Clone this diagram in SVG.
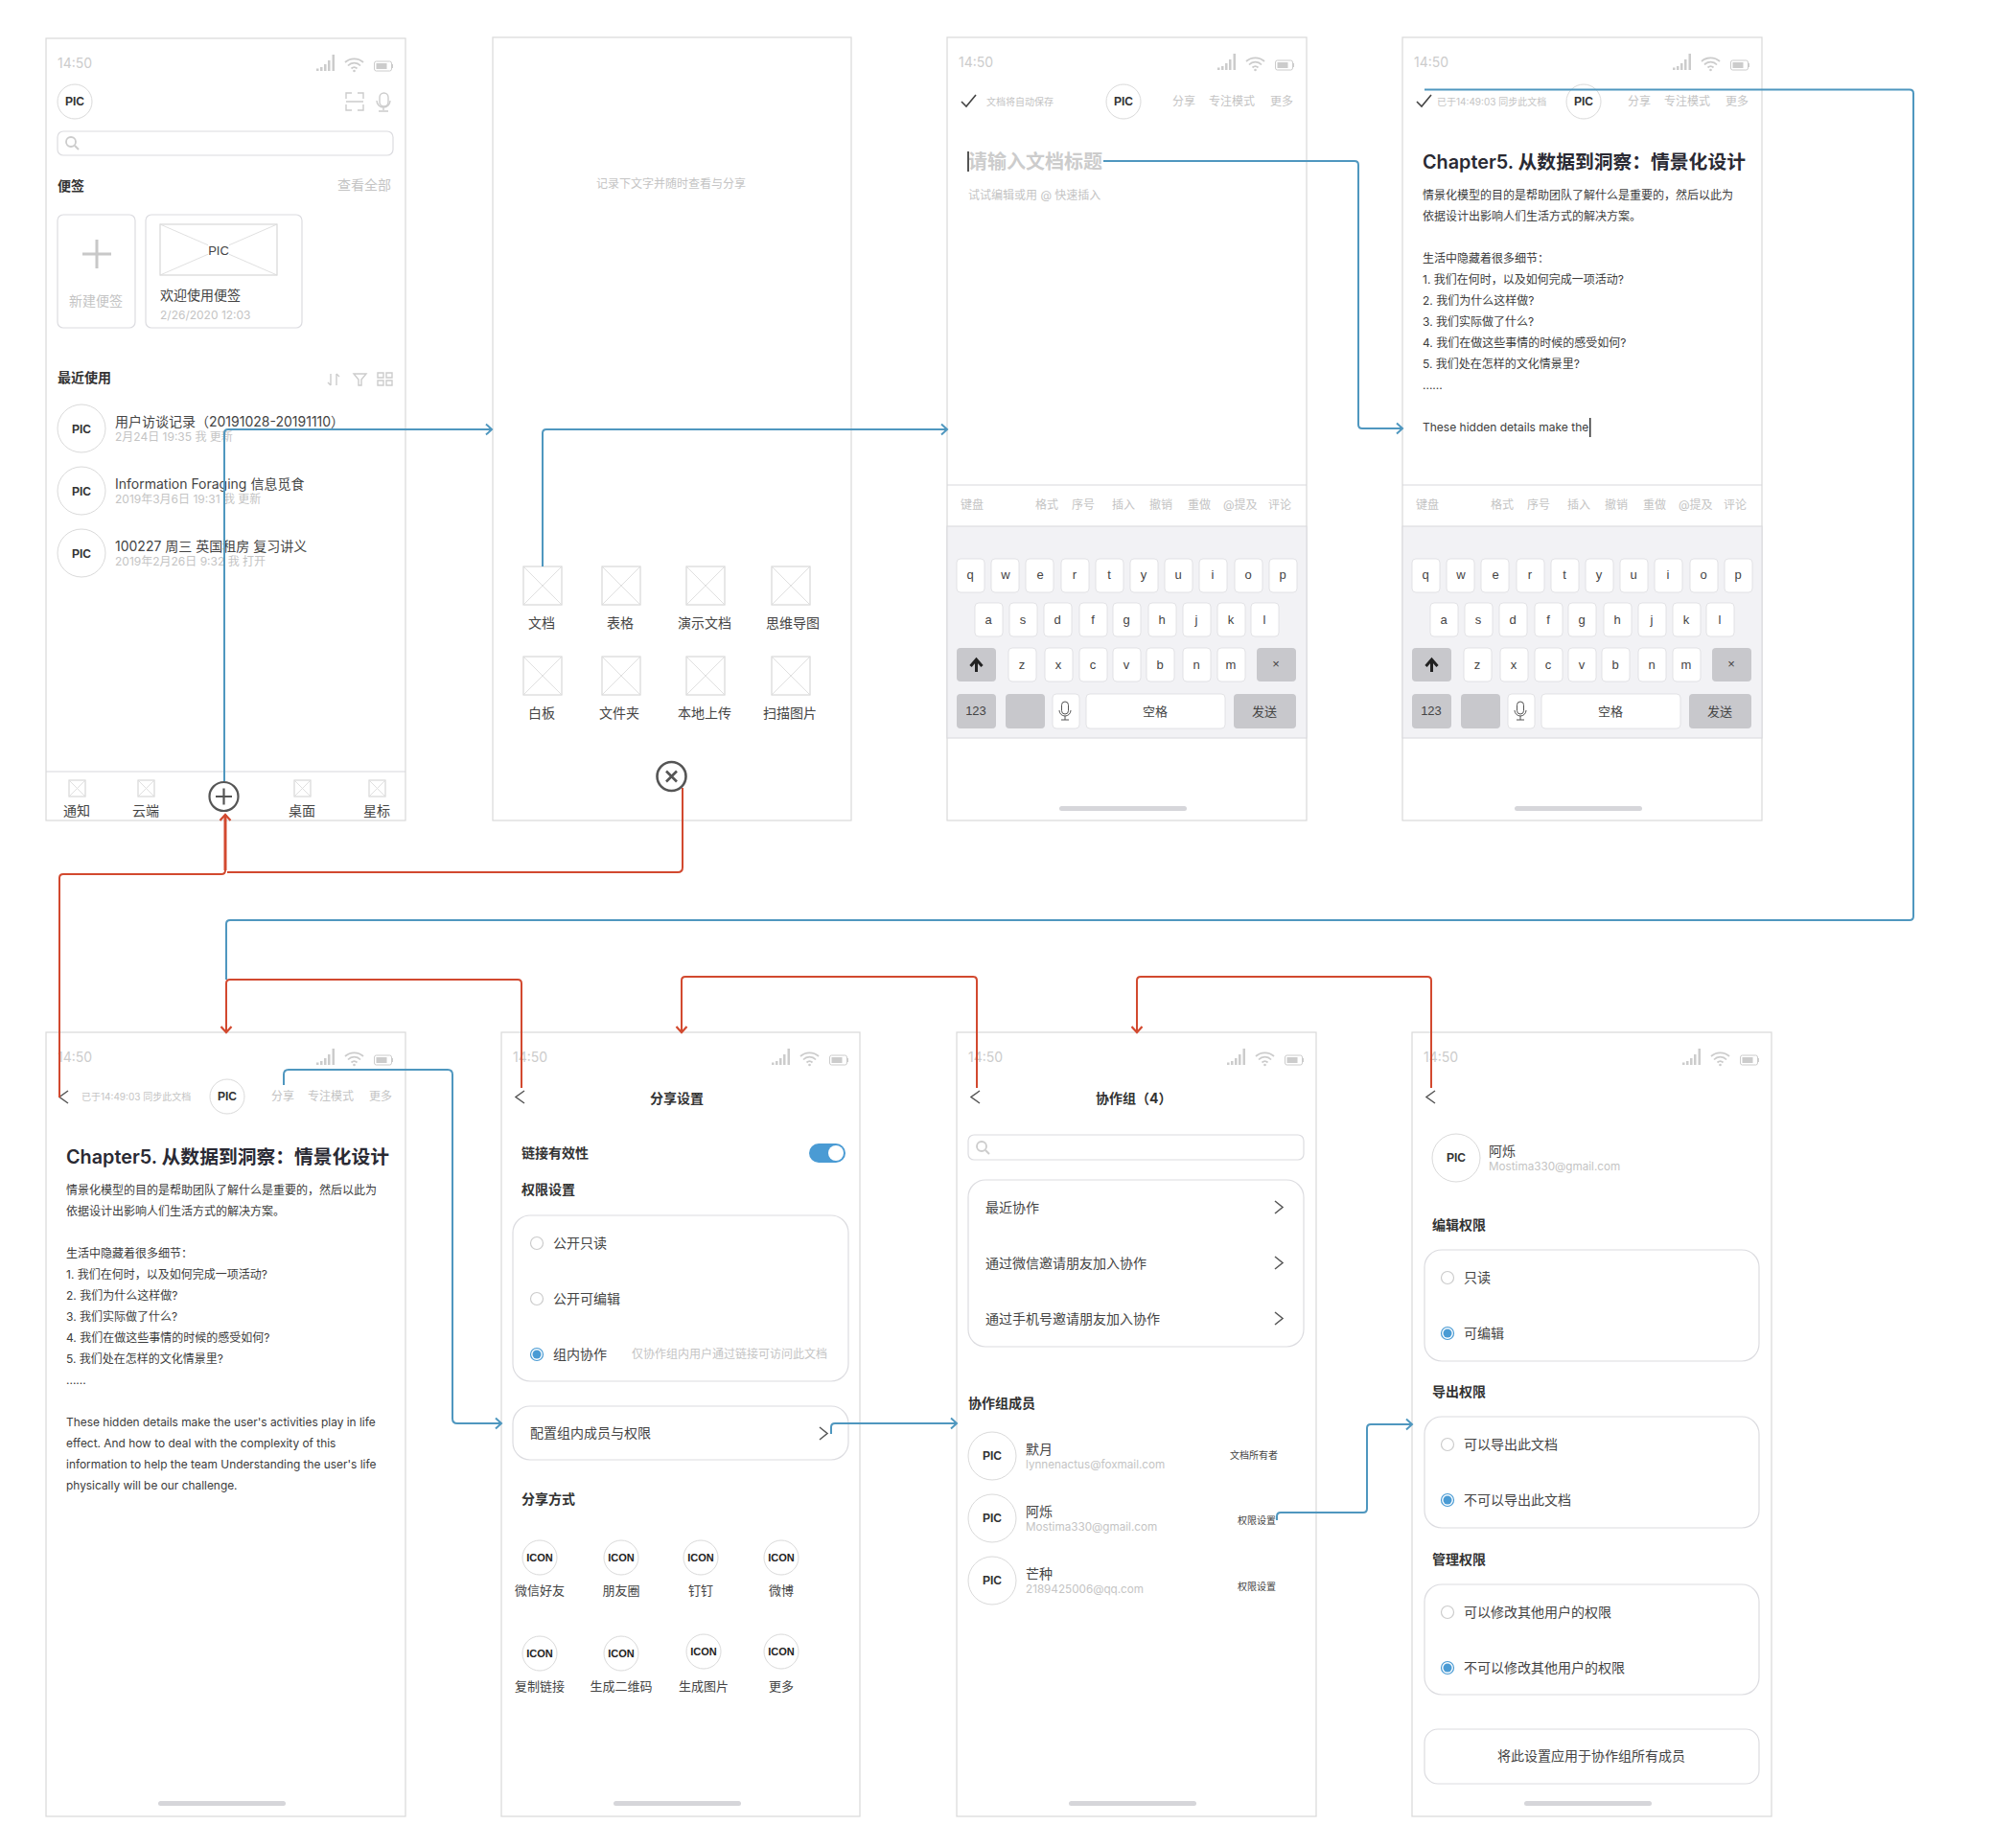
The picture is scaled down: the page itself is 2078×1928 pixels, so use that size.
<svg xmlns="http://www.w3.org/2000/svg" width="2078" height="1928" viewBox="0 0 2078 1928">
<style>
text{font-family:"Inter","Noto Sans CJK SC",sans-serif;font-size:14px;fill:#444}
.b{font-weight:700;fill:#333}
.c{text-anchor:middle}
.g{fill:#c4c4c4}
.s10{font-size:10px}.s12{font-size:12px}.s13{font-size:13px}.mail{font-size:11.7px}
.pic{font-family:"Liberation Sans",sans-serif;font-weight:700;font-size:12px;text-anchor:middle;fill:#333}
.icn{font-family:"Liberation Sans",sans-serif;font-weight:700;font-size:11px;text-anchor:middle;fill:#222}
.time{font-size:14px;fill:#ccc}
.h{font-size:19.8px;font-weight:600;fill:#2a2a33}
.body{font-size:12px;fill:#3c3c3c}
.k{font-family:"Liberation Sans","Noto Sans CJK SC",sans-serif;font-size:13px;text-anchor:middle;fill:#444}
.frame{fill:#fff;stroke:#d9d9d9;stroke-width:1.2}
.ln{fill:none;stroke:#d8d8dc;stroke-width:1.2}
.card{fill:#fff;stroke:#dcdce0;stroke-width:1.2}
.av{fill:#fff;stroke:#dadada;stroke-width:1}
.ph{fill:#fff;stroke:#d8d8d8;stroke-width:1.2}
.xx{stroke:#dcdcdc;stroke-width:.9;fill:none}
.key{fill:#fff;stroke:#dcdce0;stroke-width:.8}
.gk{fill:#c8c8cc}
.kb{fill:#f2f2f5;stroke:#d8d8dc}
.bar{fill:#d6d6da}
.chev{fill:none;stroke:#555;stroke-width:1.5}
.ic{fill:none;stroke:#ccc;stroke-width:1.4}
.r0{fill:#fff;stroke:#ccc;stroke-width:1.2}
.r1{fill:#fff;stroke:#4a9bd4;stroke-width:1.2}
.r2{fill:#4a9bd4}
.blue{fill:none;stroke:#4f97bf;stroke-width:2;stroke-linejoin:round}
.red{fill:none;stroke:#d2492f;stroke-width:2}
</style>
<defs>
<marker id="ab" markerUnits="userSpaceOnUse" markerWidth="12" markerHeight="14" refX="9" refY="7" orient="auto"><path d="M3 1.5L9 7L3 12.5" fill="none" stroke="#4f97bf" stroke-width="2"/></marker>
<marker id="ar" markerUnits="userSpaceOnUse" markerWidth="12" markerHeight="14" refX="9" refY="7" orient="auto"><path d="M3 1.5L9 7L3 12.5" fill="none" stroke="#d2492f" stroke-width="2.2"/></marker>
<g id="status">
<rect x="282" y="31.5" width="2.5" height="2.5" fill="#ccc"/><rect x="286" y="30" width="2.5" height="4" fill="#ccc"/><rect x="290" y="27" width="2.5" height="7" fill="#ccc"/><rect x="294" y="23" width="2.5" height="11" fill="#ccc"/><rect x="298.500" y="17" width="2.5" height="17" fill="#ccc"/>
<path d="M312 25a14 14 0 0 1 19 0M315 28.500a9 9 0 0 1 13 0M318.500 31.500a4.500 4.500 0 0 1 6 0" fill="none" stroke="#ccc" stroke-width="1.8"/><circle cx="321.500" cy="34" r="1.300" fill="#ccc"/>
<rect x="342.500" y="24" width="18" height="10" rx="2" fill="none" stroke="#ccc"/><rect x="344.500" y="26" width="11" height="6" fill="#ccc"/><rect x="361" y="27" width="1" height="4" fill="#ccc"/>
</g>
<g id="hdr"><path d="M0 7L5 12L15 0" fill="none" stroke="#444" stroke-width="1.6"/></g>
<path id="back" d="M10 0L1 6.500L10 13" fill="none" stroke="#555" stroke-width="1.5"/>
<path id="right" d="M0 0L8 6.500L0 13" fill="none" stroke="#555" stroke-width="1.5"/>
<g id="mag"><circle cx="6" cy="6" r="5" fill="none" stroke="#ccc" stroke-width="1.800"/><path d="M10 10L14 14" stroke="#ccc" stroke-width="2"/></g>
<g id="tile"><rect width="40" height="40" class="ph"/><path d="M0 0L40 40M40 0L0 40" class="xx"/></g>
<g id="tab"><rect width="17" height="17" class="ph"/><path d="M0 0L17 17M17 0L0 17" class="xx"/></g>
<g id="mic"><rect x="-3.500" y="-10" width="7" height="13" rx="3.500" fill="none" stroke="#555"/><path d="M-6 -1a6 6 0 0 0 12 0M0 5v4M-4 9h8" fill="none" stroke="#555"/></g>
<g id="keys">
<rect x="0" y="543" width="375" height="221" class="kb"/>
<g class="key">
<rect x="10" y="577" width="29" height="35" rx="4"/><rect x="46" y="577" width="29" height="35" rx="4"/><rect x="82" y="577" width="29" height="35" rx="4"/><rect x="119" y="577" width="29" height="35" rx="4"/><rect x="155" y="577" width="29" height="35" rx="4"/><rect x="191" y="577" width="29" height="35" rx="4"/><rect x="227" y="577" width="29" height="35" rx="4"/><rect x="263" y="577" width="29" height="35" rx="4"/><rect x="300" y="577" width="29" height="35" rx="4"/><rect x="336" y="577" width="29" height="35" rx="4"/>
<rect x="29" y="623" width="29" height="35" rx="4"/><rect x="65" y="623" width="29" height="35" rx="4"/><rect x="101" y="623" width="29" height="35" rx="4"/><rect x="138" y="623" width="29" height="35" rx="4"/><rect x="173" y="623" width="29" height="35" rx="4"/><rect x="210" y="623" width="29" height="35" rx="4"/><rect x="246" y="623" width="29" height="35" rx="4"/><rect x="282" y="623" width="29" height="35" rx="4"/><rect x="317" y="623" width="29" height="35" rx="4"/>
<rect x="64" y="670" width="29" height="35" rx="4"/><rect x="102" y="670" width="29" height="35" rx="4"/><rect x="138" y="670" width="29" height="35" rx="4"/><rect x="173" y="670" width="29" height="35" rx="4"/><rect x="208" y="670" width="29" height="35" rx="4"/><rect x="246" y="670" width="29" height="35" rx="4"/><rect x="282" y="670" width="29" height="35" rx="4"/>
<rect x="110" y="718" width="28" height="36" rx="4"/><rect x="145" y="718" width="145" height="36" rx="4"/>
</g>
<g class="gk">
<rect x="10" y="670" width="41" height="35" rx="4"/><rect x="323" y="670" width="41" height="35" rx="4"/>
<rect x="10" y="718" width="41" height="36" rx="4"/><rect x="61" y="718" width="41" height="36" rx="4"/><rect x="299" y="718" width="65" height="36" rx="4"/>
</g>
<path d="M30.500 695v-12M24.500 689l6-7l6 7" fill="none" stroke="#222" stroke-width="3"/>
<use href="#mic" x="123" y="736"/>
<rect x="117" y="835" width="133" height="5" rx="2.500" class="bar"/>
</g>
</defs>

<g id="screen-home">
<rect x="48" y="40" width="375" height="816" class="frame"/>
<use href="#status" x="48" y="40"/>
<text x="60" y="71" class="time">14:50</text>
<circle cx="78" cy="106" r="18" class="av"/><text x="78" y="110" class="pic">PIC</text>
<path d="M361 103v-6h6M373 97h6v6M361 109v6h6M373 115h6v-6M361 106h18" class="ic"/>
<rect x="396" y="97" width="9" height="14" rx="4.500" class="ic"/><path d="M393 105a7 7 0 0 0 14 0M400 112v3M395 116h10" class="ic"/>
<rect x="60" y="137" width="350" height="25" rx="6" class="card"/><use href="#mag" x="68" y="142"/>
<text x="60" y="199" class="b">便签</text><text x="408" y="198" class="g" text-anchor="end">查看全部</text>
<rect x="60" y="224" width="81" height="118" rx="6" class="card"/>
<path d="M86 265h30M101 250v30" stroke="#c8c8c8" stroke-width="3" fill="none"/>
<text x="100" y="319" class="c g">新建便签</text>
<rect x="152" y="224" width="163" height="118" rx="6" class="card"/>
<rect x="167" y="234" width="122" height="53" class="ph"/><path d="M167 234L289 287M289 234L167 287" class="xx"/>
<rect x="217" y="252" width="22" height="18" fill="#fff"/><text x="228" y="266" class="k">PIC</text>
<text x="167" y="313">欢迎使用便签</text><text x="167" y="333" class="g s12">2/26/2020 12:03</text>
<text x="60" y="399" class="b">最近使用</text>
<path d="M345 390v12M342 399l3 3M351 402v-12M351 390l3 3" class="ic"/><path d="M369 390h13l-5 6v6h-3v-6z" class="ic"/><path d="M394 389h6v5h-6zM403 389h6v5h-6zM394 397h6v5h-6zM403 397h6v5h-6z" class="ic"/>
<circle cx="85" cy="447" r="25" class="av"/><text x="85" y="452" class="pic">PIC</text>
<text x="120" y="445">用户访谈记录（20191028-20191110）</text><text x="120" y="460" class="g s12">2月24日 19:35 我 更新</text>
<circle cx="85" cy="512" r="25" class="av"/><text x="85" y="517" class="pic">PIC</text>
<text x="120" y="510">Information Foraging 信息觅食</text><text x="120" y="525" class="g s12">2019年3月6日 19:31 我 更新</text>
<circle cx="85" cy="577" r="25" class="av"/><text x="85" y="582" class="pic">PIC</text>
<text x="120" y="575">100227 周三 英国租房 复习讲义</text><text x="120" y="590" class="g s12">2019年2月26日 9:32 我 打开</text>
<path d="M48 805H423" class="ln"/>
<use href="#tab" x="72" y="814"/><use href="#tab" x="144" y="814"/><use href="#tab" x="307" y="814"/><use href="#tab" x="385" y="814"/>
<text x="80" y="851" class="c">通知</text><text x="152" y="851" class="c">云端</text><text x="315" y="851" class="c">桌面</text><text x="393" y="851" class="c">星标</text>
<circle cx="233.500" cy="831" r="15" fill="#fff" stroke="#555" stroke-width="2.200"/><path d="M225 831h17M233.500 822.500v17" stroke="#555" stroke-width="2.200"/>
</g>

<g id="screen-new">
<rect x="514" y="39" width="374" height="817" class="frame"/>
<text x="700" y="196" class="c g s12">记录下文字并随时查看与分享</text>
<use href="#tile" x="546" y="591"/><use href="#tile" x="628" y="591"/><use href="#tile" x="716" y="591"/><use href="#tile" x="805" y="591"/>
<text x="565" y="655" class="c">文档</text><text x="647" y="655" class="c">表格</text><text x="735" y="655" class="c">演示文档</text><text x="827" y="655" class="c">思维导图</text>
<use href="#tile" x="546" y="685"/><use href="#tile" x="628" y="685"/><use href="#tile" x="716" y="685"/><use href="#tile" x="805" y="685"/>
<text x="565" y="749" class="c">白板</text><text x="646" y="749" class="c">文件夹</text><text x="735" y="749" class="c">本地上传</text><text x="824" y="749" class="c">扫描图片</text>
<circle cx="700.500" cy="810" r="15" fill="#fff" stroke="#555" stroke-width="2.600"/><path d="M695 804.500l11 11M706 804.500l-11 11" stroke="#555" stroke-width="2.600"/>
</g>

<g id="screen-doc-empty">
<rect x="988" y="39" width="375" height="817" class="frame"/>
<use href="#status" x="988" y="39"/>
<text x="1000" y="70" class="time">14:50</text>
<use href="#hdr" x="1003" y="99"/>
<text x="1029" y="110" class="g s10">文档将自动保存</text>
<circle cx="1172" cy="106" r="18" class="av"/><text x="1172" y="110" class="pic">PIC</text>
<text x="1223" y="110" class="g s12">分享</text><text x="1261" y="110" class="g s12">专注模式</text><text x="1325" y="110" class="g s12">更多</text>
<text x="1010" y="176" style="font-size:20px;font-weight:700;fill:#ccc">请输入文档标题</text>
<rect x="1009" y="158" width="2" height="21" fill="#555"/>
<text x="1010" y="208" class="g s12">试试编辑或用 @ 快速插入</text>
<path d="M988 506H1363" class="ln"/>
<text x="1002" y="531" class="g s12">键盘</text><text x="1080" y="531" class="g s12">格式</text><text x="1118" y="531" class="g s12">序号</text><text x="1160" y="531" class="g s12">插入</text><text x="1199" y="531" class="g s12">撤销</text><text x="1239" y="531" class="g s12">重做</text><text x="1276" y="531" class="g s12">@提及</text><text x="1323" y="531" class="g s12">评论</text>
<use href="#keys" x="988" y="6"/>
<text x="1012" y="604" class="k">q</text><text x="1049" y="604" class="k">w</text><text x="1085" y="604" class="k">e</text><text x="1121" y="604" class="k">r</text><text x="1157" y="604" class="k">t</text><text x="1193" y="604" class="k">y</text><text x="1229" y="604" class="k">u</text><text x="1265" y="604" class="k">i</text><text x="1302" y="604" class="k">o</text><text x="1338" y="604" class="k">p</text>
<text x="1031" y="651" class="k">a</text><text x="1067" y="651" class="k">s</text><text x="1103" y="651" class="k">d</text><text x="1140" y="651" class="k">f</text><text x="1175" y="651" class="k">g</text><text x="1212" y="651" class="k">h</text><text x="1248" y="651" class="k">j</text><text x="1284" y="651" class="k">k</text><text x="1319" y="651" class="k">l</text>
<text x="1066" y="698" class="k">z</text><text x="1104" y="698" class="k">x</text><text x="1140" y="698" class="k">c</text><text x="1175" y="698" class="k">v</text><text x="1210" y="698" class="k">b</text><text x="1248" y="698" class="k">n</text><text x="1284" y="698" class="k">m</text><text x="1331" y="697" class="k">×</text>
<text x="1018" y="746" class="k">123</text><text x="1205" y="747" class="k">空格</text><text x="1319" y="747" class="k">发送</text>
</g>

<g id="screen-doc-typing">
<rect x="1463" y="39" width="375" height="817" class="frame"/>
<use href="#status" x="1463" y="39"/>
<text x="1475" y="70" class="time">14:50</text>
<use href="#hdr" x="1478" y="99"/>
<text x="1499" y="110" class="g s10">已于14:49:03 同步此文档</text>
<circle cx="1652" cy="106" r="18" class="av"/><text x="1652" y="110" class="pic">PIC</text>
<text x="1698" y="110" class="g s12">分享</text><text x="1736" y="110" class="g s12">专注模式</text><text x="1800" y="110" class="g s12">更多</text>
<text x="1484" y="176" class="h">Chapter5. 从数据到洞察：情景化设计</text>
<text x="1484" y="208" class="body">情景化模型的目的是帮助团队了解什么是重要的，然后以此为</text>
<text x="1484" y="230" class="body">依据设计出影响人们生活方式的解决方案。</text>
<text x="1484" y="274" class="body">生活中隐藏着很多细节：</text>
<text x="1484" y="296" class="body">1. 我们在何时，以及如何完成一项活动?</text>
<text x="1484" y="318" class="body">2. 我们为什么这样做?</text>
<text x="1484" y="340" class="body">3. 我们实际做了什么?</text>
<text x="1484" y="362" class="body">4. 我们在做这些事情的时候的感受如何?</text>
<text x="1484" y="384" class="body">5. 我们处在怎样的文化情景里?</text>
<text x="1484" y="406" class="body">......</text>
<text x="1484" y="450" class="body">These hidden details make the</text>
<rect x="1658" y="436" width="1.500" height="20" fill="#333"/>
<path d="M1463 506H1838" class="ln"/>
<text x="1477" y="531" class="g s12">键盘</text><text x="1555" y="531" class="g s12">格式</text><text x="1593" y="531" class="g s12">序号</text><text x="1635" y="531" class="g s12">插入</text><text x="1674" y="531" class="g s12">撤销</text><text x="1714" y="531" class="g s12">重做</text><text x="1751" y="531" class="g s12">@提及</text><text x="1798" y="531" class="g s12">评论</text>
<use href="#keys" x="1463" y="6"/>
<text x="1487" y="604" class="k">q</text><text x="1524" y="604" class="k">w</text><text x="1560" y="604" class="k">e</text><text x="1596" y="604" class="k">r</text><text x="1632" y="604" class="k">t</text><text x="1668" y="604" class="k">y</text><text x="1704" y="604" class="k">u</text><text x="1740" y="604" class="k">i</text><text x="1777" y="604" class="k">o</text><text x="1813" y="604" class="k">p</text>
<text x="1506" y="651" class="k">a</text><text x="1542" y="651" class="k">s</text><text x="1578" y="651" class="k">d</text><text x="1615" y="651" class="k">f</text><text x="1650" y="651" class="k">g</text><text x="1687" y="651" class="k">h</text><text x="1723" y="651" class="k">j</text><text x="1759" y="651" class="k">k</text><text x="1794" y="651" class="k">l</text>
<text x="1541" y="698" class="k">z</text><text x="1579" y="698" class="k">x</text><text x="1615" y="698" class="k">c</text><text x="1650" y="698" class="k">v</text><text x="1685" y="698" class="k">b</text><text x="1723" y="698" class="k">n</text><text x="1759" y="698" class="k">m</text><text x="1806" y="697" class="k">×</text>
<text x="1493" y="746" class="k">123</text><text x="1680" y="747" class="k">空格</text><text x="1794" y="747" class="k">发送</text>
</g>

<g id="screen-doc-full">
<rect x="48" y="1077" width="375" height="818" class="frame"/>
<use href="#status" x="48" y="1077"/>
<text x="60" y="1108" class="time">14:50</text>
<use href="#back" x="61" y="1138"/>
<text x="85" y="1148" class="g s10">已于14:49:03 同步此文档</text>
<circle cx="237" cy="1144" r="18" class="av"/><text x="237" y="1148" class="pic">PIC</text>
<text x="283" y="1148" class="g s12">分享</text><text x="321" y="1148" class="g s12">专注模式</text><text x="385" y="1148" class="g s12">更多</text>
<text x="69" y="1214" class="h">Chapter5. 从数据到洞察：情景化设计</text>
<text x="69" y="1246" class="body">情景化模型的目的是帮助团队了解什么是重要的，然后以此为</text>
<text x="69" y="1268" class="body">依据设计出影响人们生活方式的解决方案。</text>
<text x="69" y="1312" class="body">生活中隐藏着很多细节：</text>
<text x="69" y="1334" class="body">1. 我们在何时，以及如何完成一项活动?</text>
<text x="69" y="1356" class="body">2. 我们为什么这样做?</text>
<text x="69" y="1378" class="body">3. 我们实际做了什么?</text>
<text x="69" y="1400" class="body">4. 我们在做这些事情的时候的感受如何?</text>
<text x="69" y="1422" class="body">5. 我们处在怎样的文化情景里?</text>
<text x="69" y="1444" class="body">......</text>
<text x="69" y="1488" class="body" style="font-size:11.9px">These hidden details make the user's activities play in life</text>
<text x="69" y="1510" class="body" style="font-size:11.9px">effect. And how to deal with the complexity of this</text>
<text x="69" y="1532" class="body" style="font-size:11.9px">information to help the team Understanding the user's life</text>
<text x="69" y="1554" class="body" style="font-size:11.9px">physically will be our challenge.</text>
<rect x="165" y="1879" width="133" height="5" rx="2.500" class="bar"/>
</g>

<g id="screen-share">
<rect x="523" y="1077" width="374" height="818" class="frame"/>
<use href="#status" x="523" y="1077"/>
<text x="535" y="1108" class="time">14:50</text>
<use href="#back" x="537" y="1138"/>
<text x="706" y="1151" class="c b">分享设置</text>
<text x="544" y="1208" class="b">链接有效性</text>
<rect x="844" y="1193" width="38" height="20" rx="10" fill="#4a9bd4"/><circle cx="872" cy="1203" r="8" fill="#fff"/>
<text x="544" y="1246" class="b">权限设置</text>
<rect x="535" y="1268" width="350" height="173" rx="18" class="card"/>
<circle cx="560" cy="1297" r="6.500" class="r0"/><text x="577" y="1302">公开只读</text>
<circle cx="560" cy="1355" r="6.500" class="r0"/><text x="577" y="1360">公开可编辑</text>
<circle cx="560" cy="1413" r="6.500" class="r1"/><circle cx="560" cy="1413" r="4.500" class="r2"/><text x="577" y="1418">组内协作</text>
<text x="659" y="1417" class="g s12">仅协作组内用户通过链接可访问此文档</text>
<rect x="535" y="1467" width="350" height="56" rx="18" class="card"/>
<text x="553" y="1500">配置组内成员与权限</text><use href="#right" x="855" y="1489"/>
<text x="544" y="1569" class="b">分享方式</text>
<circle cx="563" cy="1625" r="18" class="av"/><text x="563" y="1629" class="icn">ICON</text>
<circle cx="648" cy="1625" r="18" class="av"/><text x="648" y="1629" class="icn">ICON</text>
<circle cx="731" cy="1625" r="18" class="av"/><text x="731" y="1629" class="icn">ICON</text>
<circle cx="815" cy="1625" r="18" class="av"/><text x="815" y="1629" class="icn">ICON</text>
<text x="563" y="1664" class="c s13">微信好友</text><text x="648" y="1664" class="c s13">朋友圈</text><text x="731" y="1664" class="c s13">钉钉</text><text x="815" y="1664" class="c s13">微博</text>
<circle cx="563" cy="1725" r="18" class="av"/><text x="563" y="1729" class="icn">ICON</text>
<circle cx="648" cy="1725" r="18" class="av"/><text x="648" y="1729" class="icn">ICON</text>
<circle cx="734" cy="1723" r="18" class="av"/><text x="734" y="1727" class="icn">ICON</text>
<circle cx="815" cy="1723" r="18" class="av"/><text x="815" y="1727" class="icn">ICON</text>
<text x="563" y="1764" class="c s13">复制链接</text><text x="648" y="1764" class="c s13">生成二维码</text><text x="734" y="1764" class="c s13">生成图片</text><text x="815" y="1764" class="c s13">更多</text>
<rect x="640" y="1879" width="133" height="5" rx="2.500" class="bar"/>
</g>

<g id="screen-group">
<rect x="998" y="1077" width="375" height="818" class="frame"/>
<use href="#status" x="998" y="1077"/>
<text x="1010" y="1108" class="time">14:50</text>
<use href="#back" x="1012" y="1138"/>
<text x="1143" y="1151" class="b">协作组（4）</text>
<rect x="1010" y="1184" width="350" height="26" rx="6" class="card"/><use href="#mag" x="1018" y="1190"/>
<rect x="1010" y="1231" width="350" height="174" rx="18" class="card"/>
<text x="1028" y="1265">最近协作</text><use href="#right" x="1330" y="1253"/>
<text x="1028" y="1323">通过微信邀请朋友加入协作</text><use href="#right" x="1330" y="1311"/>
<text x="1028" y="1381">通过手机号邀请朋友加入协作</text><use href="#right" x="1330" y="1369"/>
<text x="1010" y="1469" class="b">协作组成员</text>
<circle cx="1035" cy="1519" r="25" class="av"/><text x="1035" y="1523" class="pic">PIC</text>
<text x="1070" y="1517">默月</text><text x="1070" y="1532" class="g mail">lynnenactus@foxmail.com</text>
<text x="1283" y="1522" class="s10">文档所有者</text>
<circle cx="1035" cy="1584" r="25" class="av"/><text x="1035" y="1588" class="pic">PIC</text>
<text x="1070" y="1582">阿烁</text><text x="1070" y="1597" class="g mail">Mostima330@gmail.com</text>
<text x="1291" y="1590" class="s10">权限设置</text>
<circle cx="1035" cy="1649" r="25" class="av"/><text x="1035" y="1653" class="pic">PIC</text>
<text x="1070" y="1647">芒种</text><text x="1070" y="1662" class="g mail">2189425006@qq.com</text>
<text x="1291" y="1659" class="s10">权限设置</text>
<rect x="1115" y="1879" width="133" height="5" rx="2.500" class="bar"/>
</g>

<g id="screen-member">
<rect x="1473" y="1077" width="375" height="818" class="frame"/>
<use href="#status" x="1473" y="1077"/>
<text x="1485" y="1108" class="time">14:50</text>
<use href="#back" x="1487" y="1138"/>
<circle cx="1519" cy="1208" r="25" class="av"/><text x="1519" y="1212" class="pic">PIC</text>
<text x="1553" y="1206">阿烁</text><text x="1553" y="1221" class="g mail">Mostima330@gmail.com</text>
<text x="1494" y="1283" class="b">编辑权限</text>
<rect x="1486" y="1304" width="349" height="116" rx="18" class="card"/>
<circle cx="1510" cy="1333" r="6.500" class="r0"/><text x="1527" y="1338">只读</text>
<circle cx="1510" cy="1391" r="6.500" class="r1"/><circle cx="1510" cy="1391" r="4.500" class="r2"/><text x="1527" y="1396">可编辑</text>
<text x="1494" y="1457" class="b">导出权限</text>
<rect x="1486" y="1478" width="349" height="116" rx="18" class="card"/>
<circle cx="1510" cy="1507" r="6.500" class="r0"/><text x="1527" y="1512">可以导出此文档</text>
<circle cx="1510" cy="1565" r="6.500" class="r1"/><circle cx="1510" cy="1565" r="4.500" class="r2"/><text x="1527" y="1570">不可以导出此文档</text>
<text x="1494" y="1632" class="b">管理权限</text>
<rect x="1486" y="1653" width="349" height="115" rx="18" class="card"/>
<circle cx="1510" cy="1682" r="6.500" class="r0"/><text x="1527" y="1687">可以修改其他用户的权限</text>
<circle cx="1510" cy="1740" r="6.500" class="r1"/><circle cx="1510" cy="1740" r="4.500" class="r2"/><text x="1527" y="1745">不可以修改其他用户的权限</text>
<rect x="1486" y="1804" width="349" height="57" rx="14" class="card"/>
<text x="1660" y="1837" class="c">将此设置应用于协作组所有成员</text>
<rect x="1590" y="1879" width="133" height="5" rx="2.500" class="bar"/>
</g>

<g id="connectors">
<path class="blue" marker-end="url(#ab)" d="M234 815V452q0-4 4-4H513"/>
<path class="blue" marker-end="url(#ab)" d="M566 591V452q0-4 4-4H988"/>
<path class="blue" marker-end="url(#ab)" d="M1151 168H1413q4 0 4 4V443q0 4 4 4H1463"/>
<path class="blue" d="M1486 93.500H1992q4 0 4 4V956q0 4-4 4H240q-4 0-4 4V1022"/>
<path class="blue" marker-end="url(#ab)" d="M296 1132V1121q0-5 5-5H467q5 0 5 5V1480q0 5 5 5H523"/>
<path class="blue" marker-end="url(#ab)" d="M867 1496V1489q0-4 4-4H998"/>
<path class="blue" marker-end="url(#ab)" d="M1332 1586V1582q0-4 4-4H1422q4 0 4-4V1490q0-4 4-4H1473"/>
<path class="red" d="M712 822V905q0 5-5 5H237"/>
<path class="red" d="M62 1145V916q0-4 4-4H231q4 0 4-4"/>
<path class="red" marker-end="url(#ar)" style="stroke-width:3" d="M235 908V850"/>
<path class="red" marker-end="url(#ar)" d="M544 1135V1026q0-4-4-4H240q-4 0-4 4V1077"/>
<path class="red" marker-end="url(#ar)" d="M1019 1135V1023q0-4-4-4H715q-4 0-4 4V1077"/>
<path class="red" marker-end="url(#ar)" d="M1493 1135V1023q0-4-4-4H1190q-4 0-4 4V1077"/>
</g>
</svg>
